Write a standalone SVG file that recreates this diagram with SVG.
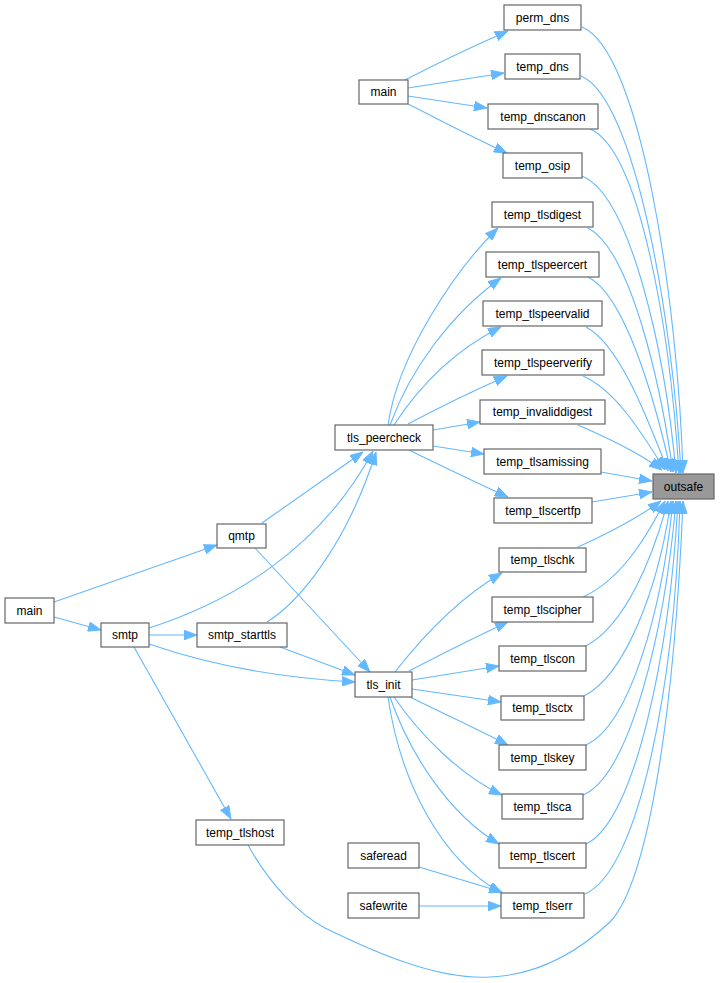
<svg xmlns="http://www.w3.org/2000/svg" width="720" height="983" viewBox="0 0 720 983">
<defs>
<style>
.n rect{fill:#ffffff;stroke:#666666;stroke-width:1.2}
.n text{font-family:"Liberation Sans",Arial,sans-serif;font-size:12px;fill:#000000;text-anchor:middle}
#outsafe rect{fill:#999999}
.e path{fill:none;stroke:#63b8ff;stroke-width:1.1;marker-end:url(#ah)}
</style>
<marker id="ah" markerUnits="userSpaceOnUse" markerWidth="13" markerHeight="10" refX="12" refY="4.5" orient="auto" viewBox="0 0 12 9">
<path d="M0,0 L12,4.5 L0,9 Z" fill="#63b8ff" stroke="#63b8ff" stroke-width="0.8"/>
</marker>
</defs>
<rect width="720" height="983" fill="#ffffff"/>
<g id="edges" class="e">
<path d="M405,80 C430,67 460,52 508,31"/>
<path d="M408,88 L504,73"/>
<path d="M408,96 L487,108"/>
<path d="M408,104 C440,120 470,136 507,153"/>
<path d="M582,27 C640,50 678,300 683,473"/>
<path d="M581,76 C635,98 673,320 681,473"/>
<path d="M590,129 C640,150 670,330 679,473"/>
<path d="M582,176 C630,195 665,350 676,473"/>
<path d="M588,228 C630,250 660,380 673,472"/>
<path d="M588,277 C625,295 655,400 671,472"/>
<path d="M586,327 C620,345 648,420 668,471"/>
<path d="M583,376 C615,390 640,430 665,470"/>
<path d="M578,425 C600,435 635,450 662,470"/>
<path d="M601,472 L652,481"/>
<path d="M592,502 L652,492"/>
<path d="M578,547 C600,537 635,520 661,501"/>
<path d="M583,597 C620,580 645,540 665,501"/>
<path d="M586,646 C625,625 652,560 668,501"/>
<path d="M584,696 C625,675 658,590 671,501"/>
<path d="M586,745 C630,725 662,610 673,501"/>
<path d="M583,795 C630,775 665,630 676,501"/>
<path d="M586,844 C635,822 670,650 678,501"/>
<path d="M585,894 C640,870 675,680 680,501"/>
<path d="M248,845 C270,885 300,915 325,928 C380,955 440,980 490,977 C540,975 580,950 610,922 C650,880 675,700 683,501"/>
<path d="M388,425 C398,355 455,270 498,228"/>
<path d="M390,425 C410,370 450,315 501,278"/>
<path d="M394,425 C420,385 455,350 501,327"/>
<path d="M408,424 C440,407 475,390 507,376"/>
<path d="M433,430 L480,422"/>
<path d="M433,446 L484,454"/>
<path d="M409,450 C440,465 475,482 508,497"/>
<path d="M395,672 C420,640 455,600 502,573"/>
<path d="M409,671 C440,655 475,637 508,622"/>
<path d="M412,680 L499,666"/>
<path d="M412,689 L501,702"/>
<path d="M410,697 C440,712 475,728 508,745"/>
<path d="M394,697 C420,735 460,775 502,795"/>
<path d="M390,697 C410,755 450,815 499,844"/>
<path d="M388,697 C400,780 440,860 502,893"/>
<path d="M419,867 L502,892"/>
<path d="M419,906 L501,906"/>
<path d="M262,523 L363,452"/>
<path d="M255,548 L370,672"/>
<path d="M54,602 L217,545"/>
<path d="M54,617 L101,630"/>
<path d="M149,628 C230,602 320,550 373,451"/>
<path d="M149,635 L197,635"/>
<path d="M149,644 C210,665 280,678 355,682"/>
<path d="M134,647 L231,819"/>
<path d="M267,622 C295,605 345,550 376,452"/>
<path d="M280,647 L355,675"/>
</g>
<g id="perm_dns" class="n"><rect x="504" y="5" width="77" height="25"/><text x="542.5" y="21.5">perm_dns</text></g>
<g id="temp_dns" class="n"><rect x="505" y="54" width="75" height="25"/><text x="542.5" y="70.5">temp_dns</text></g>
<g id="main_top" class="n"><rect x="359" y="80" width="49" height="24"/><text x="383.5" y="96">main</text></g>
<g id="temp_dnscanon" class="n"><rect x="488" y="104" width="110" height="25"/><text x="543" y="120.5">temp_dnscanon</text></g>
<g id="temp_osip" class="n"><rect x="503" y="153" width="79" height="25"/><text x="542.5" y="169.5">temp_osip</text></g>
<g id="temp_tlsdigest" class="n"><rect x="492" y="202" width="101" height="25"/><text x="542.5" y="218.5">temp_tlsdigest</text></g>
<g id="temp_tlspeercert" class="n"><rect x="486" y="252" width="113" height="25"/><text x="542.5" y="268.5">temp_tlspeercert</text></g>
<g id="temp_tlspeervalid" class="n"><rect x="483" y="301" width="119" height="25"/><text x="542.5" y="317.5">temp_tlspeervalid</text></g>
<g id="temp_tlspeerverify" class="n"><rect x="482" y="350" width="122" height="25"/><text x="543" y="366.5">temp_tlspeerverify</text></g>
<g id="temp_invaliddigest" class="n"><rect x="480" y="400" width="125" height="24"/><text x="542.5" y="416">temp_invaliddigest</text></g>
<g id="tls_peercheck" class="n"><rect x="335" y="425" width="98" height="25"/><text x="384" y="441.5">tls_peercheck</text></g>
<g id="temp_tlsamissing" class="n"><rect x="484" y="449" width="117" height="25"/><text x="542.5" y="465.5">temp_tlsamissing</text></g>
<g id="outsafe" class="n"><rect x="653" y="474" width="61" height="25"/><text x="683.5" y="490.5">outsafe</text></g>
<g id="temp_tlscertfp" class="n"><rect x="494" y="498" width="98" height="25"/><text x="543" y="514.5">temp_tlscertfp</text></g>
<g id="temp_tlschk" class="n"><rect x="499" y="548" width="87" height="24"/><text x="542.5" y="564">temp_tlschk</text></g>
<g id="temp_tlscipher" class="n"><rect x="492" y="597" width="101" height="25"/><text x="542.5" y="613.5">temp_tlscipher</text></g>
<g id="temp_tlscon" class="n"><rect x="499" y="646" width="87" height="25"/><text x="542.5" y="662.5">temp_tlscon</text></g>
<g id="tls_init" class="n"><rect x="355" y="672" width="57" height="25"/><text x="383.5" y="688.5">tls_init</text></g>
<g id="temp_tlsctx" class="n"><rect x="501" y="696" width="83" height="24"/><text x="542.5" y="712">temp_tlsctx</text></g>
<g id="temp_tlskey" class="n"><rect x="499" y="745" width="87" height="25"/><text x="542.5" y="761.5">temp_tlskey</text></g>
<g id="temp_tlsca" class="n"><rect x="502" y="794" width="81" height="25"/><text x="542.5" y="810.5">temp_tlsca</text></g>
<g id="temp_tlscert" class="n"><rect x="499" y="843" width="87" height="25"/><text x="542.5" y="859.5">temp_tlscert</text></g>
<g id="temp_tlserr" class="n"><rect x="501" y="893" width="83" height="25"/><text x="542.5" y="909.5">temp_tlserr</text></g>
<g id="saferead" class="n"><rect x="348" y="843" width="71" height="25"/><text x="383.5" y="859.5">saferead</text></g>
<g id="safewrite" class="n"><rect x="348" y="893" width="71" height="25"/><text x="383.5" y="909.5">safewrite</text></g>
<g id="qmtp" class="n"><rect x="217" y="524" width="49" height="24"/><text x="241.5" y="540">qmtp</text></g>
<g id="main_left" class="n"><rect x="5" y="598" width="49" height="25"/><text x="29.5" y="614.5">main</text></g>
<g id="smtp" class="n"><rect x="101" y="623" width="48" height="24"/><text x="125" y="639">smtp</text></g>
<g id="smtp_starttls" class="n"><rect x="197" y="623" width="90" height="24"/><text x="242" y="639">smtp_starttls</text></g>
<g id="temp_tlshost" class="n"><rect x="196" y="820" width="88" height="25"/><text x="240" y="836.5">temp_tlshost</text></g>
</svg>
